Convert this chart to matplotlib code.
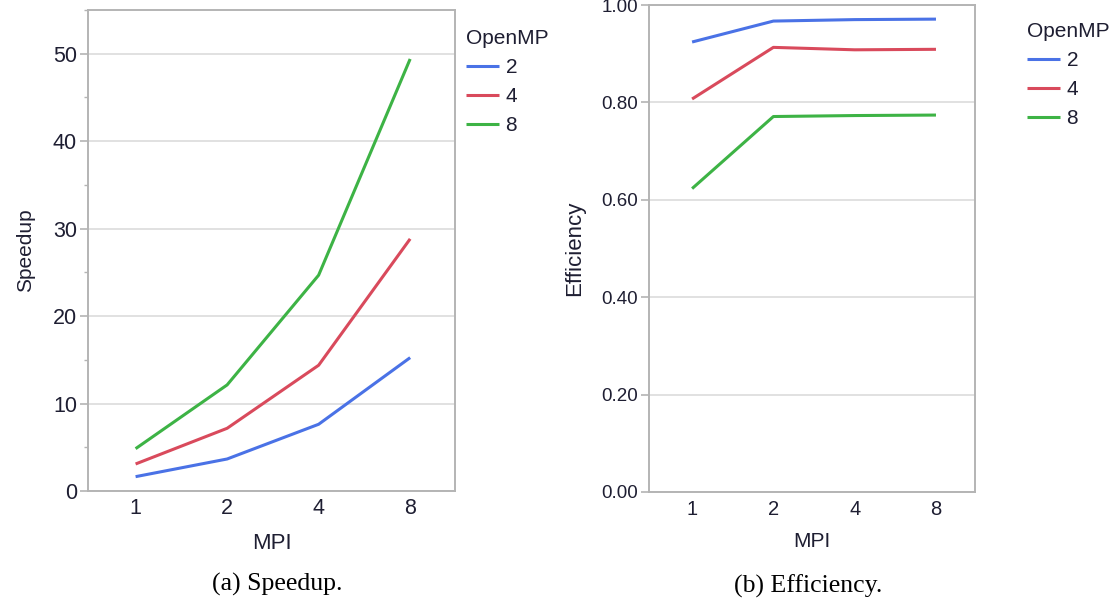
import matplotlib
matplotlib.use("Agg")
import matplotlib.pyplot as plt
from matplotlib.ticker import MultipleLocator, FormatStrFormatter

plt.rcParams['font.family'] = ['Liberation Sans', 'DejaVu Sans']

mpi_labels = ["1", "2", "4", "8"]
openmp_labels = ["2", "4", "8"]

speedup_omp2 = [1.64, 3.66, 7.63, 15.25]
speedup_omp4 = [3.09, 7.17, 14.38, 28.83]
speedup_omp8 = [4.84, 12.13, 24.68, 49.4]

eff_omp2 = [0.924, 0.967, 0.970, 0.971]
eff_omp4 = [0.807, 0.913, 0.908, 0.909]
eff_omp8 = [0.623, 0.771, 0.773, 0.774]

colors = ["#4a72e6", "#d94a5c", "#3db345"]
text_color = "#1e1e32"
spine_color = "#b4b4b4"
grid_color = "#dcdcdc"

W, H = 1111, 601
fig = plt.figure(figsize=(W / 100, H / 100), dpi=100)


def px_axes(x0, y0, x1, y1):
    return fig.add_axes([x0 / W, 1 - y1 / H, (x1 - x0) / W, (y1 - y0) / H])


def style(ax, xtick_size, ytick_size, xpad):
    for s in ax.spines.values():
        s.set_color(spine_color)
        s.set_linewidth(1.4)
    ax.tick_params(axis='x', length=0, pad=xpad, labelsize=xtick_size, colors=text_color)
    ax.tick_params(axis='y', which='major', length=6, width=1.2, color=spine_color,
                   labelsize=ytick_size, labelcolor=text_color, pad=2)
    ax.tick_params(axis='y', which='minor', length=3, width=1.0, color=spine_color)
    ax.yaxis.grid(True, which='major', color=grid_color, linewidth=1.2)
    ax.set_axisbelow(True)


def legend(ax, x_px, y_px):
    leg = ax.legend(title="OpenMP", loc='upper left', bbox_to_anchor=(x_px / W, 1 - y_px / H),
                    bbox_transform=fig.transFigure, frameon=False, fontsize=15, title_fontsize=15,
                    handlelength=1.6, handletextpad=0.3, labelspacing=0.48, borderpad=0,
                    borderaxespad=0, alignment='left')
    for t in leg.get_texts():
        t.set_color(text_color)
    leg.get_title().set_color(text_color)
    return leg


x = list(range(len(mpi_labels)))

# Left: Speedup
ax1 = px_axes(88, 10, 455, 491)
for ys, c, lab in zip([speedup_omp2, speedup_omp4, speedup_omp8], colors, openmp_labels):
    ax1.plot(x, ys, color=c, lw=2.2, label=lab, solid_capstyle='butt')
ax1.set_xlim(-0.52, 3.49)
ax1.set_ylim(0, 55)
ax1.yaxis.set_major_locator(MultipleLocator(10))
ax1.yaxis.set_minor_locator(MultipleLocator(5))
ax1.set_xticks(x)
ax1.set_xticklabels(mpi_labels)
style(ax1, 15.5, 15.5, 5)
ax1.set_ylabel("Speedup", fontsize=15, color=text_color)
ax1.yaxis.set_label_coords((35 - 88) / 367, 0.5)
ax1.set_xlabel("MPI", fontsize=16, color=text_color, labelpad=10)
legend(ax1, 466, 29)

# Right: Efficiency
ax2 = px_axes(649, 5, 975, 492)
for ys, c, lab in zip([eff_omp2, eff_omp4, eff_omp8], colors, openmp_labels):
    ax2.plot(x, ys, color=c, lw=2.2, label=lab, solid_capstyle='butt')
ax2.set_xlim(-0.53, 3.48)
ax2.set_ylim(0, 1.0)
ax2.yaxis.set_major_locator(MultipleLocator(0.2))
ax2.yaxis.set_major_formatter(FormatStrFormatter('%.2f'))
ax2.set_xticks(x)
ax2.set_xticklabels(mpi_labels)
style(ax2, 14.5, 13.5, 6)
ax2.set_ylabel("Efficiency", fontsize=16, color=text_color)
ax2.yaxis.set_label_coords((585 - 649) / 326, 0.5)
ax2.set_xlabel("MPI", fontsize=15, color=text_color, labelpad=9)
legend(ax2, 1027, 22)

# Captions
fig.text(277 / W, 1 - 584 / H, "(a) Speedup.", family=['Liberation Serif', 'DejaVu Serif'],
         fontsize=18.5, ha='center', va='center', color='black')
fig.text(808 / W, 1 - 586 / H, "(b) Efficiency.", family=['Liberation Serif', 'DejaVu Serif'],
         fontsize=18.5, ha='center', va='center', color='black')

fig.savefig("out.png", dpi=100)
